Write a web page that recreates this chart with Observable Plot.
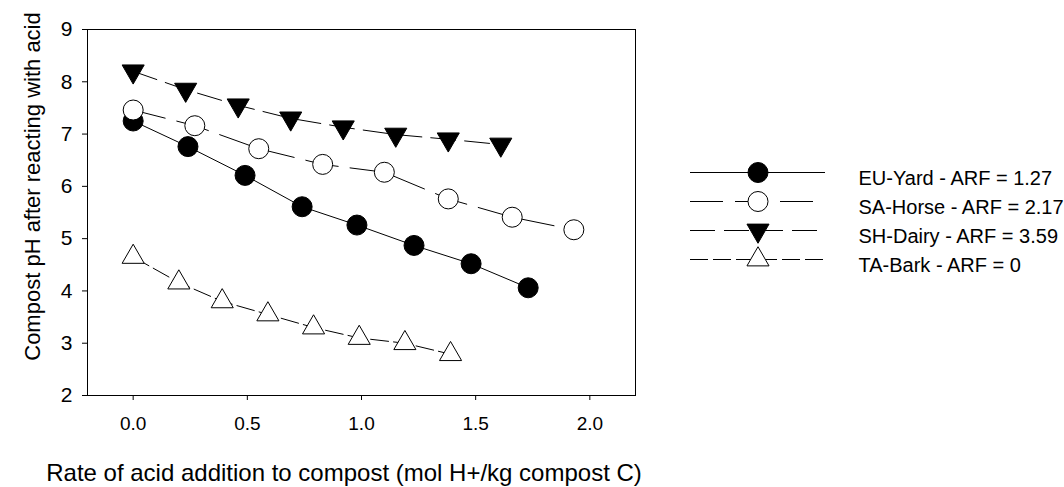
<!DOCTYPE html>
<html><head><meta charset="utf-8">
<script src="https://cdn.jsdelivr.net/npm/d3@7"></script>
<script src="https://cdn.jsdelivr.net/npm/@observablehq/plot@0.6"></script>
<style>
body{margin:0;background:#fff;font-family:"Liberation Sans",Arial,sans-serif;}
#wrap{position:relative;width:1064px;height:487px;overflow:hidden;}
#chart{position:absolute;left:0;top:0;}
#legend{position:absolute;left:690px;top:150px;}
#chart g[aria-label="y-axis tick label"], #chart g[aria-label="y-axis tick label"] text{font-size:21px !important;}
#chart g[aria-label="x-axis tick label"], #chart g[aria-label="x-axis tick label"] text{font-size:19px !important;}
</style></head><body>
<div id="wrap"><div id="chart"></div><div id="legend"></div></div>
<script>
// ---- data ----
const seriesNames = ["EU-Yard - ARF = 1.27", "SA-Horse - ARF = 2.17", "SH-Dairy - ARF = 3.59", "TA-Bark - ARF = 0"];
const euYardX = [0, 0.24, 0.49, 0.74, 0.98, 1.23, 1.48, 1.73];
const euYardY = [7.25, 6.76, 6.21, 5.61, 5.26, 4.87, 4.52, 4.06];
const saHorseX = [0, 0.27, 0.55, 0.83, 1.10, 1.38, 1.66, 1.93];
const saHorseY = [7.46, 7.16, 6.72, 6.42, 6.27, 5.76, 5.41, 5.17];
const shDairyX = [0, 0.23, 0.46, 0.69, 0.92, 1.15, 1.38, 1.61];
const shDairyY = [8.20, 7.85, 7.55, 7.30, 7.13, 6.99, 6.90, 6.80];
const taBarkX = [0, 0.20, 0.39, 0.59, 0.79, 0.99, 1.19, 1.39];
const taBarkY = [4.65, 4.16, 3.80, 3.55, 3.30, 3.10, 3.00, 2.79];
const xTicks = [0, 0.5, 1.0, 1.5, 2.0];
const yTicks = [2, 3, 4, 5, 6, 7, 8, 9];
const xTitle = "Rate of acid addition to compost (mol H+/kg compost C)";
const yTitle = "Compost pH after reacting with acid";

// ---- styles ----
const styles = [
  {dash: null, symbol: "circle", fill: "black", r: 10, rotate: 0},
  {dash: "33,12", symbol: "circle", fill: "white", r: 10, rotate: 0},
  {dash: "25,9", symbol: "triangle", fill: "black", r: 8.2, rotate: 180},
  {dash: "18,5", symbol: "triangle", fill: "white", r: 8.2, rotate: 0}
];
const FONT = "'Liberation Sans', Arial, sans-serif";

const seriesX = [euYardX, saHorseX, shDairyX, taBarkX];
const seriesY = [euYardY, saHorseY, shDairyY, taBarkY];
const tables = seriesNames.map((name, i) => seriesX[i].map((x, j) => ({name, x, y: seriesY[i][j]})));

const marks = [Plot.frame({stroke: "black", strokeWidth: 1})];
tables.forEach((t, i) => {
  const s = styles[i];
  marks.push(Plot.line(t, {x: "x", y: "y", stroke: "black", strokeWidth: 1, strokeDasharray: s.dash || undefined}));
});
tables.forEach((t, i) => {
  const s = styles[i];
  marks.push(Plot.dot(t, {x: "x", y: "y", symbol: s.symbol, r: s.r, fill: s.fill, stroke: "black", strokeWidth: 1, rotate: s.rotate}));
});
marks.push(Plot.axisY({ticks: yTicks, tickFormat: d3.format("d"), tickSize: 5, tickPadding: 10, label: null}));
marks.push(Plot.axisX({ticks: xTicks, tickFormat: d3.format(".1f"), tickSize: 5, tickPadding: 16, label: null}));
marks.push(Plot.text([xTitle], {frameAnchor: "bottom", text: d => d, textAnchor: "middle", lineAnchor: "middle", dx: -17.5, dy: 77.6, fontSize: 24, fill: "black"}));
marks.push(Plot.text([yTitle], {frameAnchor: "left", text: d => d, textAnchor: "middle", lineAnchor: "middle", rotate: -90, dx: -54.7, dy: -26, fontSize: 22, fill: "black"}));

const chart = Plot.plot({
  width: 1064, height: 487,
  marginLeft: 87, marginTop: 29, marginRight: 429, marginBottom: 92,
  x: {domain: [-0.2, 2.2]},
  y: {domain: [2, 9]},
  style: {fontFamily: FONT, fontSize: "19px", color: "black", background: "white", overflow: "visible"},
  marks
});
document.getElementById("chart").appendChild(chart);

// ---- legend ----
const lmarks = [];
seriesNames.forEach((name, i) => {
  const s = styles[i];
  lmarks.push(Plot.ruleY([name], {y: d => d, x1: 0, x2: 1, stroke: "black", strokeWidth: 1, strokeDasharray: s.dash || undefined}));
  lmarks.push(Plot.dot([name], {x: () => 0.5, y: d => d, symbol: s.symbol, r: s.r, fill: s.fill, stroke: "black", strokeWidth: 1, rotate: s.rotate}));
  lmarks.push(Plot.text([name], {x: () => 1, y: d => d, text: d => d, dx: 33, dy: 6, textAnchor: "start", fontSize: 20, fill: "black"}));
});
const legend = Plot.plot({
  width: 374, height: 130,
  marginLeft: 0, marginRight: 239, marginTop: 21, marginBottom: 20,
  x: {domain: [0, 1], axis: null},
  y: {type: "point", domain: seriesNames, axis: null, padding: 0},
  style: {fontFamily: FONT, fontSize: "20px", color: "black", background: "transparent", overflow: "visible"},
  marks: lmarks
});
document.getElementById("legend").appendChild(legend);
</script>
</body></html>
